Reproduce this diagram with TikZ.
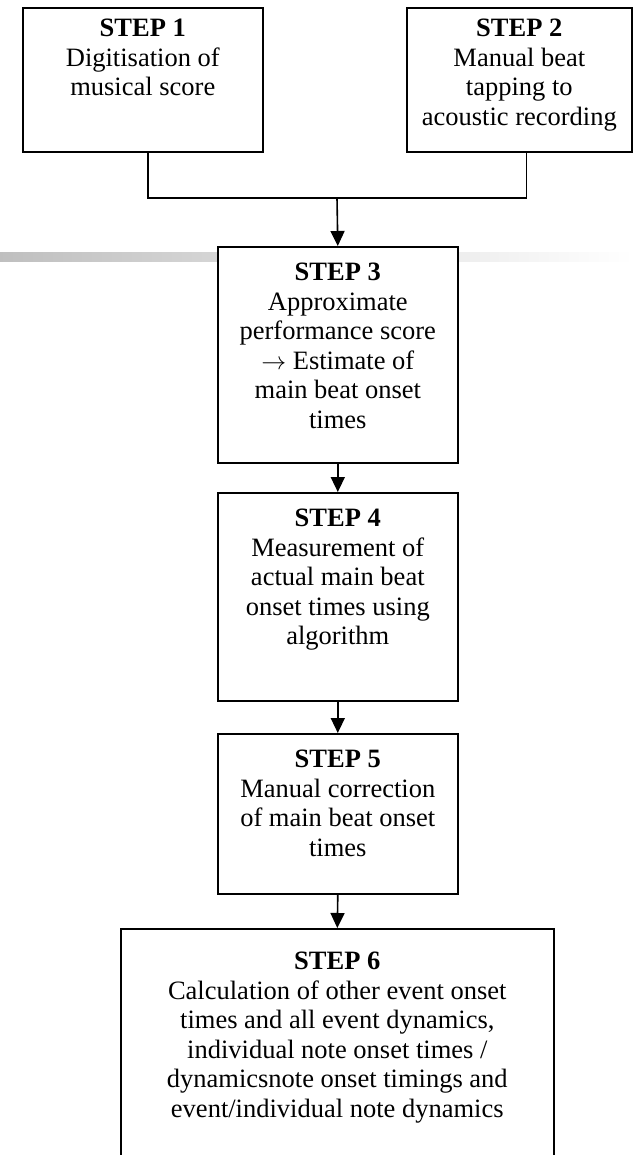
\documentclass[tikz,border=0pt]{standalone}
\usepackage{fontspec}
\setmainfont{Liberation Serif}
\usetikzlibrary{arrows.meta}
\tikzset{
  stepbox/.style={draw=black, line width=1.6pt, fill=white, rectangle, inner sep=0pt, anchor=north west},
  steptext/.style={anchor=north, align=center, inner sep=0pt, font=\fontsize{26.5}{29.5}\selectfont},
  conn/.style={line width=1.6pt},
  arr/.style={line width=1.6pt, -{Triangle[width=14pt,length=15pt]}}
}
\begin{document}
\begin{tikzpicture}[x=1pt,y=-1pt]
\clip (0,0) rectangle (633,1155);
\fill[white] (0,0) rectangle (633,1155);
% grey gradient bar
\shade[left color=black!25, right color=white] (0,253) rectangle (633,262);
% boxes
\node[stepbox, minimum width=240pt, minimum height=144pt] (b1) at (22,7) {};
\node[stepbox, minimum width=225pt, minimum height=144pt] (b2) at (406,7) {};
\node[stepbox, minimum width=240pt, minimum height=216pt] (b3) at (217,246) {};
\node[stepbox, minimum width=240pt, minimum height=208pt] (b4) at (217,492) {};
\node[stepbox, minimum width=240pt, minimum height=160pt] (b5) at (217,733) {};
\node[stepbox, minimum width=433pt, minimum height=260pt] (b6) at (120,928) {};
% texts
\node[steptext] (t1) at ([yshift=-12pt]b1.north) {\textbf{STEP 1}\\Digitisation of\\musical score};
\node[steptext] (t2) at ([yshift=-12pt]b2.north) {\textbf{STEP 2}\\Manual beat\\tapping to\\acoustic recording};
\node[steptext] (t3) at ([yshift=-17pt]b3.north) {\textbf{STEP 3}\\Approximate\\performance score\\$\rightarrow$ Estimate of\\main beat onset\\times};
\node[steptext] (t4) at ([yshift=-17pt]b4.north) {\textbf{STEP 4}\\Measurement of\\actual main beat\\onset times using\\algorithm};
\node[steptext] (t5) at ([yshift=-17pt]b5.north) {\textbf{STEP 5}\\Manual correction\\of main beat onset\\times};
\node[steptext] (t6) at ([yshift=-24pt]b6.north) {\textbf{STEP 6}\\Calculation of other event onset\\times and all event dynamics,\\individual note onset times /\\dynamicsnote onset timings and\\event/individual note dynamics};
% connectors
\coordinate (j) at (337,198);
\draw[conn] ([xshift=5pt]b1.south) |- (j) -| ([xshift=7pt]b2.south);
\draw[arr] (j) -- (b3.north);
\draw[arr] (b3.south) -- (b4.north);
\draw[arr] (b4.south) -- (b5.north);
\draw[arr] (b5.south) -- (b6.north);
\end{tikzpicture}
\end{document}
